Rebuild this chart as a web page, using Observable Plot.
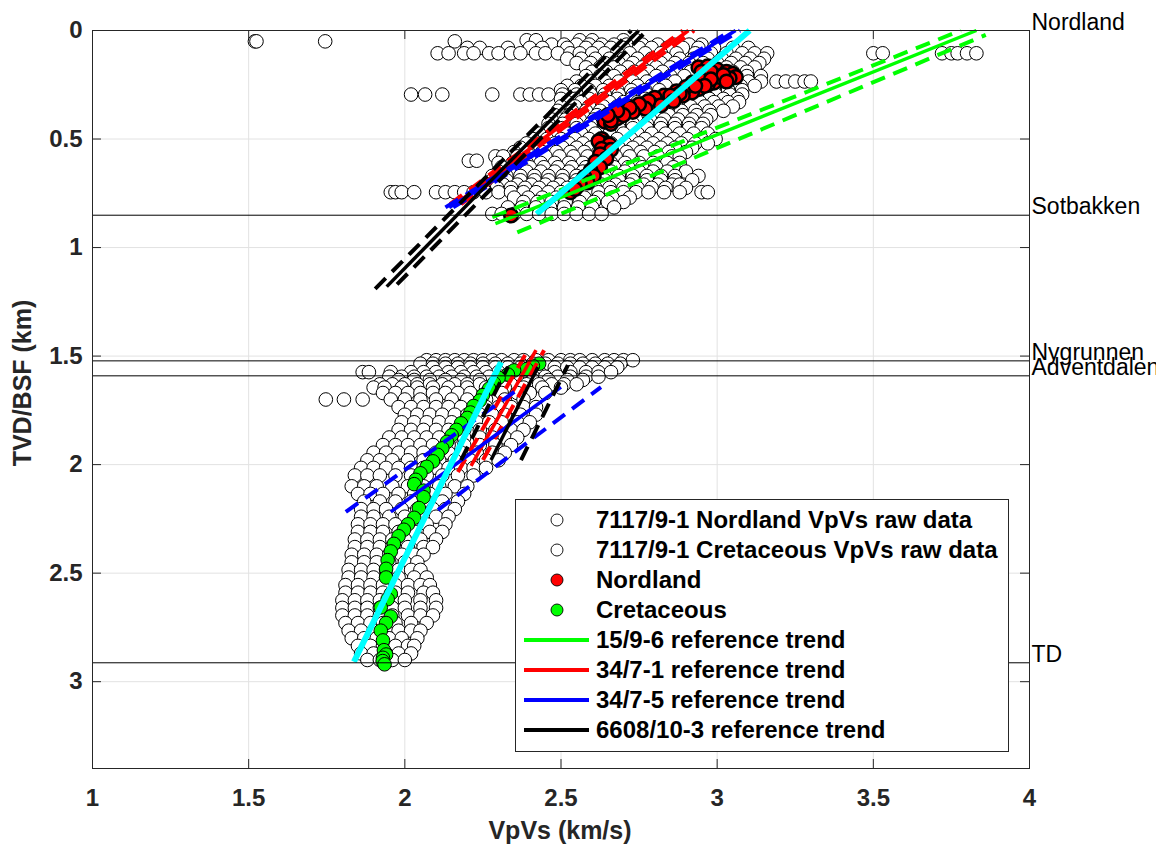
<!DOCTYPE html>
<html>
<head>
<meta charset="utf-8">
<script src="https://cdn.jsdelivr.net/npm/d3@7"></script>
<script src="https://cdn.jsdelivr.net/npm/@observablehq/plot@0.6"></script>
<style>
  html, body { margin: 0; padding: 0; background: #fff; overflow: hidden; }
  #wrap { position: relative; width: 1156px; height: 847px; overflow: hidden;
          font-family: "Liberation Sans", Arial, Helvetica, sans-serif; }
  #wrap svg { display: block; max-width: none; }
  .title { position: absolute; font-weight: bold; font-size: 25px; color: #262626; white-space: nowrap; }
  #xtitle { left: 560px; top: 830px; transform: translate(-50%, -50%); }
  #ytitle { left: 22px; top: 383px; transform: translate(-50%, -50%) rotate(-90deg); }
  #legend { position: absolute; left: 515px; top: 499px; width: 492px; height: 246px;
            border: 1px solid #262626; background: #fff; padding-top: 5px; box-sizing: content-box; }
  .lrow { height: 30px; display: flex; align-items: center; }
  .lrow svg { flex: 0 0 80px; }
  .lrow span { font-weight: bold; font-size: 24px; color: #000; white-space: nowrap; }
</style>
</head>
<body>
<div id="wrap"></div>
<script>
// ---------------- data ----------------
const xTicks = [1, 1.5, 2, 2.5, 3, 3.5, 4];
const yTicks = [0, 0.5, 1, 1.5, 2, 2.5, 3];

const horizonNames  = ["Nordland", "Sotbakken", "Nygrunnen", "Adventdalen", "TD"];
const horizonDepths = [0, 0.851, 1.522, 1.591, 2.913];

// 7117/9-1 Nordland VpVs raw data: [depth (km), [VpVs values]]
const nordlandRawRows = [
  [0.050, [1.52, 1.525, 1.745, 2.16]],
  [0.045, [2.39, 2.42, 2.56, 2.60, 2.70, 2.74]],
  [0.065, [2.47, 2.51, 2.55, 2.59, 2.63, 2.67, 2.71, 2.76, 2.81, 2.86, 2.91, 2.95]],
  [0.080, [2.20, 2.24, 2.33, 2.40, 2.44, 2.52, 2.58, 2.62, 2.66, 2.70, 2.75, 2.79, 2.84, 2.89, 2.94, 2.99, 3.05, 3.10]],
  [0.105, [2.105, 2.14, 2.19, 2.22, 2.27, 2.30, 2.34, 2.37, 2.42, 2.45, 2.49, 2.53, 2.56, 2.60, 2.64, 2.68, 2.72, 2.77, 2.82, 2.87, 2.93, 2.98, 3.03, 3.08, 3.12, 3.16, 3.50, 3.53, 3.72, 3.75, 3.77, 3.80, 3.83]],
  [0.130, [2.52, 2.565, 2.61, 2.655, 2.70, 2.745, 2.79, 2.835, 2.88, 2.925, 2.97, 3.015, 3.06, 3.105, 3.15]],
  [0.150, [2.55, 2.595, 2.64, 2.685, 2.73, 2.775, 2.82, 2.865, 2.91, 2.955, 3.00, 3.045, 3.09, 3.135]],
  [0.170, [2.58, 2.625, 2.67, 2.715, 2.76, 2.805, 2.85, 2.895, 2.94, 2.985, 3.03, 3.075, 3.12]],
  [0.190, [2.60, 2.645, 2.69, 2.735, 2.78, 2.825, 2.87, 2.915, 2.96, 3.005, 3.05, 3.095]],
  [0.210, [2.58, 2.625, 2.67, 2.715, 2.76, 2.805, 2.85, 2.895, 3.05, 3.095, 3.14]],
  [0.235, [2.55, 2.595, 2.64, 2.685, 2.73, 2.775, 2.82, 2.865, 3.06, 3.10, 3.14, 3.19, 3.22, 3.25, 3.28, 3.30]],
  [0.255, [2.52, 2.565, 2.61, 2.655, 2.70, 2.745, 2.79, 2.835, 3.03, 3.075, 3.12]],
  [0.275, [2.50, 2.545, 2.59, 2.635, 2.68, 2.725, 2.77, 2.815, 2.99, 3.035, 3.08]],
  [0.295, [2.02, 2.065, 2.12, 2.28, 2.37, 2.40, 2.43, 2.46, 2.505, 2.55, 2.595, 2.64, 2.685, 2.73, 2.775, 2.95, 2.995, 3.04, 3.08]],
  [0.315, [2.50, 2.545, 2.59, 2.635, 2.68, 2.725, 2.77, 2.93, 2.975, 3.02, 3.065]],
  [0.330, [2.52, 2.565, 2.61, 2.655, 2.70, 2.745, 2.90, 2.945, 2.99, 3.035, 3.07]],
  [0.350, [2.50, 2.545, 2.59, 2.635, 2.68, 2.725, 2.87, 2.915, 2.96, 3.005, 3.05]],
  [0.370, [2.49, 2.535, 2.58, 2.625, 2.67, 2.715, 2.84, 2.885, 2.93, 2.975, 3.02]],
  [0.390, [2.48, 2.525, 2.57, 2.615, 2.66, 2.705, 2.75, 2.80, 2.845, 2.89, 2.935, 2.98]],
  [0.410, [2.47, 2.515, 2.56, 2.605, 2.65, 2.695, 2.74, 2.785, 2.83, 2.875, 2.92, 2.965]],
  [0.430, [2.46, 2.505, 2.55, 2.595, 2.64, 2.685, 2.73, 2.775, 2.82, 2.865, 2.91, 2.955]],
  [0.450, [2.46, 2.505, 2.55, 2.595, 2.64, 2.685, 2.73, 2.775, 2.82, 2.865, 2.91, 2.95]],
  [0.475, [2.43, 2.475, 2.52, 2.565, 2.61, 2.655, 2.70, 2.745, 2.79, 2.835, 2.88, 2.925, 2.97]],
  [0.500, [2.41, 2.455, 2.50, 2.545, 2.59, 2.635, 2.68, 2.725, 2.77, 2.815, 2.86, 2.905, 2.95, 2.995]],
  [0.520, [2.39, 2.435, 2.48, 2.525, 2.57, 2.615, 2.66, 2.705, 2.75, 2.795, 2.84, 2.885, 2.93, 2.97]],
  [0.540, [2.37, 2.415, 2.46, 2.505, 2.55, 2.595, 2.64, 2.685, 2.73, 2.775, 2.82, 2.865, 2.92]],
  [0.560, [2.35, 2.395, 2.44, 2.485, 2.53, 2.575, 2.62, 2.665, 2.71, 2.755, 2.80, 2.845, 2.90]],
  [0.580, [2.29, 2.315, 2.36, 2.405, 2.45, 2.495, 2.54, 2.585, 2.63, 2.675, 2.72, 2.765, 2.81, 2.855, 2.88]],
  [0.600, [2.205, 2.23]],
  [0.610, [2.30, 2.345, 2.39, 2.435, 2.48, 2.525, 2.57, 2.615, 2.66, 2.705, 2.75, 2.795, 2.84, 2.88]],
  [0.630, [2.31, 2.355, 2.40, 2.445, 2.49, 2.535, 2.58, 2.625, 2.67, 2.715, 2.76, 2.805, 2.86]],
  [0.650, [2.30, 2.345, 2.39, 2.435, 2.48, 2.525, 2.57, 2.615, 2.66, 2.705, 2.75, 2.795, 2.84, 2.90]],
  [0.670, [2.28, 2.325, 2.37, 2.415, 2.46, 2.505, 2.55, 2.595, 2.64, 2.685, 2.73, 2.775, 2.82, 2.865, 2.94]],
  [0.690, [2.28, 2.325, 2.37, 2.415, 2.46, 2.505, 2.55, 2.595, 2.64, 2.685, 2.73, 2.775, 2.82, 2.865, 2.92]],
  [0.710, [2.27, 2.315, 2.36, 2.405, 2.45, 2.495, 2.54, 2.585, 2.63, 2.675, 2.72, 2.765, 2.81, 2.855, 2.88]],
  [0.725, [2.25, 2.295, 2.34, 2.385, 2.43, 2.475, 2.52, 2.565, 2.61, 2.655, 2.70, 2.745, 2.79, 2.835, 2.90]],
  [0.745, [1.955, 1.97, 1.99, 2.03, 2.10, 2.13, 2.16, 2.19, 2.22, 2.26, 2.30, 2.34, 2.38, 2.42, 2.46, 2.50, 2.54, 2.58, 2.62, 2.66, 2.70, 2.74, 2.78, 2.83, 2.88, 2.95, 2.97]],
  [0.770, [2.35, 2.395, 2.44, 2.485, 2.53, 2.575, 2.62, 2.665, 2.72]],
  [0.790, [2.38, 2.425, 2.47, 2.515, 2.56, 2.605, 2.65, 2.70]],
  [0.815, [2.33, 2.375, 2.42, 2.465, 2.51, 2.555, 2.60, 2.67]],
  [0.845, [2.28, 2.31, 2.35, 2.39, 2.43, 2.47, 2.51, 2.55, 2.59, 2.63]]
];

// 7117/9-1 Cretaceous VpVs raw data: [depth (km), [VpVs values]]
const cretaceousRawRows = [
  [1.519, [2.07, 2.10, 2.13, 2.16, 2.19, 2.22, 2.25, 2.28, 2.31, 2.35, 2.38, 2.42, 2.46, 2.50, 2.53, 2.56, 2.60, 2.64, 2.67, 2.70, 2.73]],
  [1.535, [2.05, 2.09, 2.13, 2.17, 2.21, 2.25, 2.29, 2.33, 2.37, 2.41, 2.45, 2.49, 2.53, 2.57, 2.61, 2.65, 2.69]],
  [1.552, [2.09, 2.13, 2.17, 2.21, 2.25, 2.29, 2.33, 2.37, 2.42, 2.48, 2.52, 2.56, 2.60, 2.64, 2.68]],
  [1.574, [1.865, 1.885, 1.955, 2.02, 2.06, 2.10, 2.14, 2.18, 2.22, 2.26, 2.30, 2.34, 2.38, 2.43, 2.48, 2.53, 2.58, 2.62, 2.66]],
  [1.595, [1.95, 1.99, 2.03, 2.07, 2.11, 2.15, 2.19, 2.23, 2.27, 2.31, 2.36, 2.41, 2.45, 2.49, 2.53, 2.58, 2.62]],
  [1.610, [1.98, 2.03, 2.08, 2.13, 2.18, 2.24, 2.30, 2.36, 2.41, 2.46, 2.52, 2.57]],
  [1.630, [1.92, 1.96, 2.00, 2.04, 2.08, 2.12, 2.16, 2.20, 2.24, 2.29, 2.34, 2.39, 2.43, 2.47, 2.51, 2.55]],
  [1.645, [1.90, 1.935, 1.99, 2.04, 2.09, 2.14, 2.20, 2.26, 2.32, 2.38, 2.44, 2.50]],
  [1.670, [1.93, 1.97, 2.01, 2.05, 2.09, 2.13, 2.17, 2.21, 2.26, 2.31, 2.36, 2.40, 2.45]],
  [1.700, [1.747, 1.805, 1.865, 1.955, 2.00, 2.05, 2.10, 2.15, 2.20, 2.26, 2.32, 2.38]],
  [1.735, [1.98, 2.02, 2.06, 2.10, 2.14, 2.18, 2.22, 2.26, 2.30, 2.34, 2.38, 2.42]],
  [1.770, [2.00, 2.04, 2.08, 2.12, 2.16, 2.20, 2.24, 2.28, 2.32, 2.37, 2.42]],
  [1.805, [1.99, 2.03, 2.07, 2.11, 2.15, 2.19, 2.23, 2.27, 2.31, 2.36, 2.40]],
  [1.840, [1.98, 2.02, 2.06, 2.10, 2.14, 2.19, 2.24, 2.29, 2.34, 2.38]],
  [1.875, [1.95, 1.99, 2.03, 2.07, 2.11, 2.15, 2.19, 2.24, 2.28, 2.32, 2.36]],
  [1.910, [1.93, 1.97, 2.01, 2.05, 2.09, 2.14, 2.19, 2.24, 2.29, 2.34]],
  [1.945, [1.90, 1.94, 1.98, 2.02, 2.06, 2.10, 2.14, 2.18, 2.23, 2.28, 2.32]],
  [1.980, [1.88, 1.92, 1.96, 2.01, 2.06, 2.11, 2.16, 2.21, 2.26, 2.30]],
  [2.015, [1.86, 1.90, 1.94, 1.98, 2.02, 2.06, 2.10, 2.14, 2.18, 2.22, 2.26]],
  [2.050, [1.84, 1.88, 1.92, 1.97, 2.02, 2.07, 2.12, 2.17, 2.22]],
  [2.100, [1.83, 1.87, 1.91, 1.96, 2.01, 2.06, 2.11, 2.16, 2.20]],
  [2.135, [1.85, 1.89, 1.93, 1.98, 2.03, 2.08, 2.13, 2.19]],
  [2.170, [1.87, 1.92, 1.97, 2.02, 2.07, 2.12, 2.17]],
  [2.205, [1.86, 1.90, 1.94, 1.99, 2.04, 2.09, 2.13, 2.16]],
  [2.240, [1.86, 1.90, 1.95, 2.00, 2.05, 2.10, 2.14]],
  [2.275, [1.85, 1.89, 1.93, 1.97, 2.02, 2.07, 2.13]],
  [2.310, [1.85, 1.89, 1.93, 1.98, 2.03, 2.08, 2.12]],
  [2.345, [1.84, 1.88, 1.92, 1.96, 2.00, 2.05, 2.10]],
  [2.380, [1.84, 1.88, 1.92, 1.96, 2.01, 2.06, 2.09]],
  [2.415, [1.83, 1.87, 1.91, 1.95, 1.99, 2.03, 2.06]],
  [2.450, [1.83, 1.87, 1.91, 1.95, 2.00, 2.04]],
  [2.485, [1.82, 1.86, 1.90, 1.94, 1.98, 2.02, 2.05]],
  [2.520, [1.82, 1.86, 1.90, 1.94, 1.98, 2.03, 2.07]],
  [2.555, [1.81, 1.85, 1.89, 1.93, 1.97, 2.01, 2.05, 2.08]],
  [2.590, [1.81, 1.85, 1.89, 1.93, 1.97, 2.01, 2.06, 2.09]],
  [2.625, [1.80, 1.84, 1.88, 1.92, 1.96, 2.00, 2.05, 2.10]],
  [2.660, [1.80, 1.84, 1.88, 1.92, 1.96, 2.00, 2.05, 2.10]],
  [2.695, [1.80, 1.84, 1.88, 1.92, 1.96, 2.01, 2.05, 2.09]],
  [2.730, [1.81, 1.85, 1.89, 1.93, 1.97, 2.02, 2.07]],
  [2.765, [1.82, 1.86, 1.90, 1.94, 1.98, 2.02, 2.05]],
  [2.800, [1.83, 1.87, 1.91, 1.95, 1.99, 2.04]],
  [2.835, [1.85, 1.89, 1.93, 1.97, 2.01, 2.03]],
  [2.870, [1.86, 1.90, 1.94, 1.98, 2.02]],
  [2.900, [1.88, 1.92, 1.96, 2.00]]
];

// Nordland (red) points: [VpVs, depth]
const nordlandPts = [
  [2.94, 0.17], [2.97, 0.165], [3.00, 0.18], [3.03, 0.19], [3.05, 0.20], [3.06, 0.215],
  [3.04, 0.22], [3.02, 0.23], [2.99, 0.24], [2.97, 0.25], [2.96, 0.21], [2.99, 0.205],
  [3.01, 0.215], [2.94, 0.27], [2.92, 0.24], [2.92, 0.285], [2.90, 0.26], [2.89, 0.30],
  [2.87, 0.28], [2.865, 0.31], [2.84, 0.32], [2.83, 0.30], [2.81, 0.33], [2.80, 0.31],
  [2.79, 0.34], [2.76, 0.35], [2.74, 0.36], [2.71, 0.37], [2.69, 0.38], [2.67, 0.39],
  [2.655, 0.405], [2.64, 0.42], [2.66, 0.43], [2.68, 0.405],
  [2.95, 0.19], [2.98, 0.19], [3.02, 0.205], [2.95, 0.23], [2.98, 0.225], [3.03, 0.235],
  [2.96, 0.255], [2.93, 0.255], [2.88, 0.29], [2.85, 0.30], [2.86, 0.325], [2.82, 0.345],
  [2.78, 0.325], [2.77, 0.36], [2.75, 0.34], [2.73, 0.375], [2.72, 0.355], [2.70, 0.39],
  [2.68, 0.37], [2.66, 0.415], [2.65, 0.39],
  [2.63, 0.50], [2.64, 0.52], [2.65, 0.54], [2.64, 0.56], [2.63, 0.58], [2.62, 0.60],
  [2.61, 0.62], [2.60, 0.64], [2.59, 0.66], [2.57, 0.69], [2.55, 0.72], [2.53, 0.745],
  [2.62, 0.51], [2.655, 0.525], [2.63, 0.545], [2.66, 0.55], [2.625, 0.57], [2.645, 0.59],
  [2.61, 0.605], [2.625, 0.63], [2.595, 0.645], [2.605, 0.67], [2.575, 0.675], [2.585, 0.70],
  [2.56, 0.705], [2.545, 0.73],
  [2.34, 0.852]
];

// Cretaceous (green) points: [VpVs, depth]
const cretaceousPts = [
  [2.43, 1.535], [2.41, 1.545], [2.39, 1.56], [2.35, 1.566], [2.33, 1.585], [2.30, 1.60],
  [2.285, 1.625], [2.27, 1.65], [2.25, 1.68], [2.24, 1.705], [2.22, 1.73], [2.21, 1.76],
  [2.20, 1.785], [2.18, 1.81], [2.165, 1.84], [2.15, 1.865], [2.135, 1.895], [2.12, 1.925],
  [2.105, 1.955], [2.09, 1.985], [2.07, 2.01], [2.05, 2.04], [2.035, 2.07], [2.03, 2.09],
  [2.06, 2.12], [2.06, 2.15], [2.045, 2.20], [2.03, 2.245], [2.01, 2.275], [1.997, 2.30],
  [1.98, 2.33], [1.965, 2.365], [1.955, 2.40], [1.945, 2.44], [1.94, 2.48], [1.94, 2.52],
  [1.955, 2.595], [1.945, 2.62], [1.923, 2.658], [1.955, 2.70], [1.94, 2.73], [1.923, 2.765],
  [1.93, 2.81], [1.933, 2.855], [1.94, 2.875], [1.93, 2.89], [1.929, 2.905], [1.935, 2.92]
];

// Reference trends: name, kind ("trend" or "bound"), start/end [VpVs, depth]
const trendNames  = ["15/9-6", "34/7-1", "34/7-5", "6608/10-3", "7117/9-1"];
const trendColors = ["#00ff00", "#ff0000", "#0000ff", "#000000", "#00ffff"];
const trendSegments = [
  // Nordland interval
  {name: "15/9-6",    kind: "bound", x1: 2.28,  d1: 0.86,  x2: 3.78,  d2: 0.0},
  {name: "15/9-6",    kind: "trend", x1: 2.29,  d1: 0.89,  x2: 3.83,  d2: 0.0},
  {name: "15/9-6",    kind: "bound", x1: 2.36,  d1: 0.93,  x2: 3.86,  d2: 0.02},
  {name: "34/7-1",    kind: "bound", x1: 2.145, d1: 0.80,  x2: 2.89,  d2: 0.0},
  {name: "34/7-1",    kind: "trend", x1: 2.162, d1: 0.80,  x2: 2.908, d2: 0.0},
  {name: "34/7-1",    kind: "bound", x1: 2.18,  d1: 0.80,  x2: 2.926, d2: 0.0},
  {name: "34/7-5",    kind: "bound", x1: 2.13,  d1: 0.815, x2: 3.045, d2: 0.0},
  {name: "34/7-5",    kind: "trend", x1: 2.142, d1: 0.815, x2: 3.059, d2: 0.0},
  {name: "34/7-5",    kind: "bound", x1: 2.155, d1: 0.815, x2: 3.073, d2: 0.0},
  {name: "6608/10-3", kind: "bound", x1: 1.905, d1: 1.19,  x2: 2.725, d2: 0.0},
  {name: "6608/10-3", kind: "trend", x1: 1.942, d1: 1.18,  x2: 2.749, d2: 0.0},
  {name: "6608/10-3", kind: "bound", x1: 1.975, d1: 1.17,  x2: 2.775, d2: 0.0},
  {name: "7117/9-1",  kind: "trend", x1: 2.422, d1: 0.845, x2: 3.104, d2: 0.0},
  // Cretaceous interval
  {name: "34/7-1",    kind: "bound", x1: 2.170, d1: 2.034, x2: 2.394, d2: 1.473},
  {name: "34/7-1",    kind: "trend", x1: 2.212, d1: 2.006, x2: 2.420, d2: 1.473},
  {name: "34/7-1",    kind: "bound", x1: 2.250, d1: 1.979, x2: 2.446, d2: 1.473},
  {name: "34/7-5",    kind: "bound", x1: 1.811, d1: 2.218, x2: 2.372, d2: 1.643},
  {name: "34/7-5",    kind: "trend", x1: 1.955, d1: 2.218, x2: 2.500, d2: 1.643},
  {name: "34/7-5",    kind: "bound", x1: 2.106, d1: 2.209, x2: 2.628, d2: 1.643},
  {name: "6608/10-3", kind: "bound", x1: 2.180, d1: 1.979, x2: 2.330, d2: 1.550},
  {name: "6608/10-3", kind: "trend", x1: 2.276, d1: 1.979, x2: 2.426, d2: 1.551},
  {name: "6608/10-3", kind: "bound", x1: 2.372, d1: 1.979, x2: 2.522, d2: 1.542},
  {name: "7117/9-1",  kind: "trend", x1: 1.837, d1: 2.908, x2: 2.308, d2: 1.528}
];

const legendLabels = [
  "7117/9-1 Nordland VpVs raw data",
  "7117/9-1 Cretaceous VpVs raw data",
  "Nordland",
  "Cretaceous",
  "15/9-6 reference trend",
  "34/7-1 reference trend",
  "34/7-5 reference trend",
  "6608/10-3 reference trend"
];

// ---------------- build ----------------
const nordRaw = nordlandRawRows.flatMap(([d, xs]) => xs.map(x => ({x, d})));
const cretRaw = cretaceousRawRows.flatMap(([d, xs]) => xs.map(x => ({x, d})));
const horizons = horizonNames.map((name, i) => ({name, depth: horizonDepths[i]}));
const colorOf = name => trendColors[trendNames.indexOf(name)];

const W = 1156, H = 847, mL = 92, mR = 127, mT = 30, mB = 79;
const frameW = W - mL - mR, frameH = H - mT - mB;
const FONT = '"Liberation Sans", Arial, Helvetica, sans-serif';

const trendMarks = [];
for (const name of trendNames) {
  const isFit = name === "7117/9-1";
  const segs = trendSegments.filter(s => s.name === name);
  const bounds = segs.filter(s => s.kind === "bound");
  const trends = segs.filter(s => s.kind === "trend");
  if (bounds.length) trendMarks.push(Plot.link(bounds, {
    x1: "x1", y1: "d1", x2: "x2", y2: "d2",
    stroke: colorOf(name), strokeWidth: 4, strokeDasharray: "15,9", strokeLinecap: "butt"
  }));
  trendMarks.push(Plot.link(trends, {
    x1: "x1", y1: "d1", x2: "x2", y2: "d2",
    stroke: colorOf(name), strokeWidth: isFit ? 6 : 3.5, strokeLinecap: "butt"
  }));
}

const fmt = d => String(d);

const chart = Plot.plot({
  width: W, height: H,
  marginLeft: mL, marginRight: mR, marginTop: mT, marginBottom: mB,
  x: {domain: [1, 4]},
  y: {domain: [0, 3.4], reverse: true},
  style: {fontFamily: FONT, background: "transparent", overflow: "visible"},
  marks: [
    Plot.ruleX(xTicks, {stroke: "#e2e2e2", strokeWidth: 1}),
    Plot.ruleY(yTicks, {stroke: "#e2e2e2", strokeWidth: 1}),
    Plot.dot(nordRaw, {x: "x", y: "d", r: 6.8, fill: "#fff", stroke: "#000", strokeWidth: 1}),
    Plot.dot(cretRaw, {x: "x", y: "d", r: 6.8, fill: "#fff", stroke: "#000", strokeWidth: 1}),
    Plot.dot(nordlandPts, {x: d => d[0], y: d => d[1], fill: "#ff0000", stroke: "#000", r: 6.8, strokeWidth: 2.5}),
    Plot.dot(cretaceousPts, {x: d => d[0], y: d => d[1], fill: "#00ff00", stroke: "#000", r: 6.8, strokeWidth: 1}),
    ...trendMarks,
    Plot.ruleY(horizonDepths, {stroke: "#000", strokeWidth: 1}),
    Plot.text(horizons, {x: () => 4, y: "depth", text: "name", textAnchor: "start", lineAnchor: "bottom",
                         dx: 2, dy: -1, fontSize: 23, fill: "#000", fontFamily: FONT}),
    Plot.frame({stroke: "#262626", strokeWidth: 1}),
    Plot.tickX(xTicks, {x: d => d, insetTop: frameH - 9, stroke: "#262626"}),
    Plot.tickX(xTicks, {x: d => d, insetBottom: frameH - 9, stroke: "#262626"}),
    Plot.tickY(yTicks, {y: d => d, insetRight: frameW - 9, stroke: "#262626"}),
    Plot.tickY(yTicks, {y: d => d, insetLeft: frameW - 9, stroke: "#262626"}),
    Plot.axisX(xTicks, {anchor: "bottom", tickSize: 0, tickPadding: 20, label: null, tickFormat: fmt,
                        fontSize: 24, fontWeight: "bold", fill: "#262626"}),
    Plot.axisY(yTicks, {anchor: "left", tickSize: 0, tickPadding: 10, label: null, tickFormat: fmt,
                        fontSize: 24, fontWeight: "bold", fill: "#262626"})
  ]
});

const wrap = document.getElementById("wrap");
wrap.appendChild(chart);

// Axis titles
const xt = document.createElement("div");
xt.className = "title"; xt.id = "xtitle"; xt.textContent = "VpVs (km/s)";
wrap.appendChild(xt);
const yt = document.createElement("div");
yt.className = "title"; yt.id = "ytitle"; yt.textContent = "TVD/BSF (km)";
wrap.appendChild(yt);

// Legend
const legendSwatches = [
  {type: "dot", fill: "#fff"},
  {type: "dot", fill: "#fff"},
  {type: "dot", fill: "#ff0000"},
  {type: "dot", fill: "#00ff00"},
  {type: "line", stroke: trendColors[0]},
  {type: "line", stroke: trendColors[1]},
  {type: "line", stroke: trendColors[2]},
  {type: "line", stroke: trendColors[3]}
];
const legend = document.createElement("div");
legend.id = "legend";
legendLabels.forEach((label, i) => {
  const row = document.createElement("div");
  row.className = "lrow";
  const sw = legendSwatches[i];
  const svgNS = "http://www.w3.org/2000/svg";
  const s = document.createElementNS(svgNS, "svg");
  s.setAttribute("width", 80); s.setAttribute("height", 30);
  if (sw.type === "dot") {
    const c = document.createElementNS(svgNS, "circle");
    c.setAttribute("cx", 41); c.setAttribute("cy", 15); c.setAttribute("r", 6);
    c.setAttribute("fill", sw.fill); c.setAttribute("stroke", "#000"); c.setAttribute("stroke-width", 0.9);
    s.appendChild(c);
  } else {
    const l = document.createElementNS(svgNS, "line");
    l.setAttribute("x1", 8); l.setAttribute("x2", 73); l.setAttribute("y1", 15); l.setAttribute("y2", 15);
    l.setAttribute("stroke", sw.stroke); l.setAttribute("stroke-width", 4);
    s.appendChild(l);
  }
  row.appendChild(s);
  const t = document.createElement("span");
  t.textContent = label;
  row.appendChild(t);
  legend.appendChild(row);
});
wrap.appendChild(legend);
</script>
</body>
</html>
